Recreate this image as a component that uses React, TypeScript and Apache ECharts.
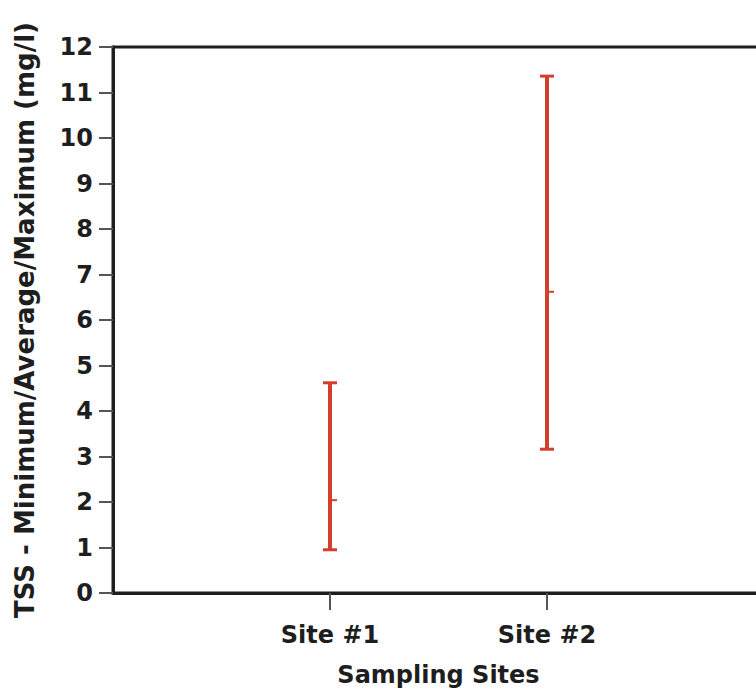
import React, { useEffect, useRef } from "react";
import * as echarts from "echarts";

// Sampling sites and TSS statistics (mg/l)
const siteNames = ["Site #1", "Site #2"];
const sitePositions = [1, 2];
const minimumValues = [0.95, 3.16];
const averageValues = [2.04, 6.62];
const maximumValues = [4.62, 11.36];
const yTicks = [0, 1, 2, 3, 4, 5, 6, 7, 8, 9, 10, 11, 12];

const FONT = "DejaVu Sans";
const INK = "#1e1e1e";
const RED = "#d23f2b";

export default function App() {
  const ref = useRef<HTMLDivElement>(null);

  useEffect(() => {
    if (!ref.current) return;
    const chart = echarts.init(ref.current, undefined, { renderer: "svg" });

    const data = sitePositions.map((x, i) => [
      x,
      minimumValues[i],
      averageValues[i],
      maximumValues[i],
    ]);

    chart.setOption({
      animation: false,
      backgroundColor: "#ffffff",
      grid: {
        left: 113,
        right: 16,
        top: 47,
        bottom: 100,
        show: true,
        borderColor: INK,
        borderWidth: 3,
      },
      xAxis: {
        type: "value",
        min: 0,
        max: 3,
        interval: 1,
        splitLine: { show: false },
        axisLine: { show: true, lineStyle: { color: INK, width: 3 } },
        axisTick: {
          show: true,
          length: 17,
          customValues: sitePositions,
          lineStyle: { color: "#555", width: 2 },
        },
        axisLabel: {
          customValues: sitePositions,
          formatter: (v: number) => {
            const i = sitePositions.indexOf(v);
            return i >= 0 ? siteNames[i] : "";
          },
          margin: 30,
          fontFamily: FONT,
          fontWeight: "bold",
          fontSize: 24,
          color: INK,
        },
        name: "Sampling Sites",
        nameLocation: "middle",
        nameGap: 70,
        nameTextStyle: {
          fontFamily: FONT,
          fontWeight: "bold",
          fontSize: 24,
          color: INK,
        },
      },
      yAxis: {
        type: "value",
        min: yTicks[0],
        max: yTicks[yTicks.length - 1],
        interval: 1,
        splitLine: { show: false },
        axisLine: { show: true, lineStyle: { color: INK, width: 3 } },
        axisTick: { show: true, length: 14, lineStyle: { color: "#555", width: 2 } },
        axisLabel: {
          margin: 20,
          fontFamily: FONT,
          fontWeight: "bold",
          fontSize: 24,
          color: INK,
        },
        name: "TSS - Minimum/Average/Maximum (mg/l)",
        nameLocation: "middle",
        nameGap: 75,
        nameTextStyle: {
          fontFamily: FONT,
          fontWeight: "bold",
          fontSize: 26,
          color: INK,
        },
      },
      series: [
        {
          type: "custom",
          data,
          encode: { x: 0, y: [1, 2, 3] },
          renderItem: (_params: any, api: any) => {
            const x = api.value(0);
            const lo = api.coord([x, api.value(1)]);
            const mid = api.coord([x, api.value(2)]);
            const hi = api.coord([x, api.value(3)]);
            const style = { stroke: RED, lineWidth: 4 };
            const capStyle = { stroke: RED, lineWidth: 3 };
            return {
              type: "group",
              children: [
                { type: "line", shape: { x1: lo[0], y1: lo[1], x2: hi[0], y2: hi[1] }, style },
                { type: "line", shape: { x1: hi[0] - 7, y1: hi[1], x2: hi[0] + 7, y2: hi[1] }, style: capStyle },
                { type: "line", shape: { x1: lo[0] - 7, y1: lo[1], x2: lo[0] + 7, y2: lo[1] }, style: capStyle },
                { type: "line", shape: { x1: mid[0], y1: mid[1], x2: mid[0] + 7, y2: mid[1] }, style: { stroke: RED, lineWidth: 2 } },
              ],
            };
          },
        },
      ],
    });

    return () => chart.dispose();
  }, []);

  return (
    <div
      style={{
        position: "fixed",
        left: 0,
        top: 0,
        width: 756,
        height: 693,
        overflow: "hidden",
        background: "#fff",
      }}
    >
      <div ref={ref} style={{ width: 780, height: 693 }} />
    </div>
  );
}
